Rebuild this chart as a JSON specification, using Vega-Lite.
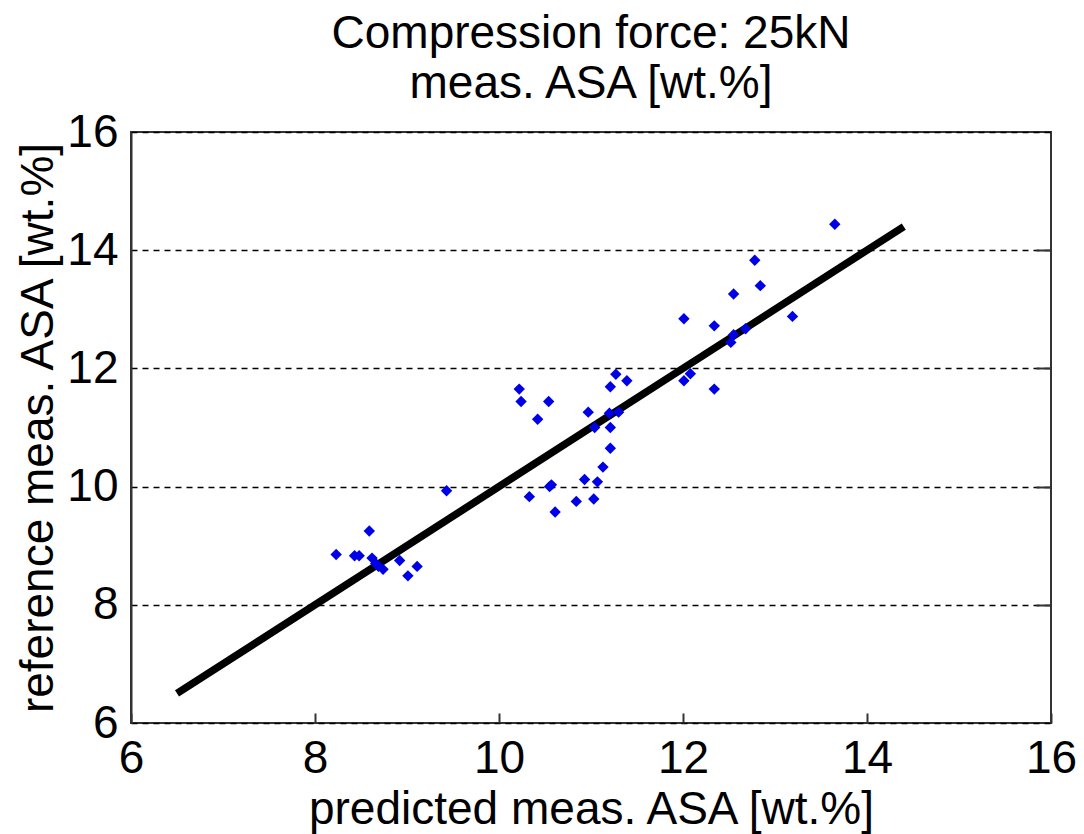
{
  "$schema": "https://vega.github.io/schema/vega-lite/v6.json",
  "width": 920,
  "height": 591,
  "autosize": {"type": "none"},
  "padding": {"left": 131, "top": 132, "right": 33, "bottom": 111},
  "background": "white",
  "config": {
    "font": "Liberation Sans",
    "view": {"stroke": "#333333", "strokeWidth": 2},
    "axis": {
      "labelFont": "Liberation Sans",
      "titleFont": "Liberation Sans",
      "labelFontSize": 46,
      "titleFontSize": 46,
      "titleFontWeight": "normal",
      "labelColor": "black",
      "titleColor": "black",
      "domainColor": "#333333",
      "domainWidth": 2,
      "tickColor": "#333333",
      "tickWidth": 2,
      "format": "d"
    }
  },
  "title": {
    "text": ["Compression force: 25kN", "meas. ASA [wt.%]"],
    "font": "Liberation Sans",
    "fontSize": 46,
    "fontWeight": "normal",
    "color": "black",
    "lineHeight": 50,
    "anchor": "middle",
    "offset": 1
  },
  "datasets": {
    "pts": [
      {"pred": 9.43, "ref": 9.93},
      {"pred": 8.59, "ref": 9.25},
      {"pred": 8.23, "ref": 8.85},
      {"pred": 8.43, "ref": 8.83},
      {"pred": 8.48, "ref": 8.83},
      {"pred": 8.62, "ref": 8.79},
      {"pred": 8.66, "ref": 8.70},
      {"pred": 8.69, "ref": 8.65},
      {"pred": 8.74, "ref": 8.60},
      {"pred": 8.92, "ref": 8.75},
      {"pred": 9.11, "ref": 8.65},
      {"pred": 9.01, "ref": 8.49},
      {"pred": 10.22, "ref": 11.65},
      {"pred": 10.24, "ref": 11.44},
      {"pred": 10.54, "ref": 11.44},
      {"pred": 10.42, "ref": 11.14},
      {"pred": 11.27, "ref": 11.90},
      {"pred": 11.39, "ref": 11.79},
      {"pred": 11.21, "ref": 11.69},
      {"pred": 10.97, "ref": 11.26},
      {"pred": 11.20, "ref": 11.24},
      {"pred": 11.30, "ref": 11.26},
      {"pred": 11.04, "ref": 11.00},
      {"pred": 11.21, "ref": 11.00},
      {"pred": 11.21, "ref": 10.65},
      {"pred": 11.13, "ref": 10.33},
      {"pred": 11.07, "ref": 10.08},
      {"pred": 10.93, "ref": 10.12},
      {"pred": 10.57, "ref": 10.03},
      {"pred": 10.55, "ref": 10.00},
      {"pred": 10.33, "ref": 9.83},
      {"pred": 10.61, "ref": 9.57},
      {"pred": 10.84, "ref": 9.75},
      {"pred": 11.03, "ref": 9.79},
      {"pred": 13.65, "ref": 14.44},
      {"pred": 12.78, "ref": 13.83},
      {"pred": 12.84, "ref": 13.40},
      {"pred": 12.55, "ref": 13.26},
      {"pred": 12.01, "ref": 12.84},
      {"pred": 12.34, "ref": 12.72},
      {"pred": 13.19, "ref": 12.88},
      {"pred": 12.68, "ref": 12.67},
      {"pred": 12.55, "ref": 12.57},
      {"pred": 12.52, "ref": 12.44},
      {"pred": 12.08, "ref": 11.91},
      {"pred": 12.01, "ref": 11.79},
      {"pred": 12.34, "ref": 11.65}
    ],
    "fit": [
      {"pred": 6.5, "ref": 6.5},
      {"pred": 14.4, "ref": 14.4}
    ]
  },
  "layer": [
    {
      "data": {"name": "fit"},
      "mark": {"type": "line", "color": "black", "strokeWidth": 7.5, "clip": true},
      "encoding": {
        "x": {
          "field": "pred", "type": "quantitative",
          "scale": {"domain": [6, 16], "nice": false, "zero": false},
          "axis": {
            "title": "predicted meas. ASA [wt.%]",
            "values": [6, 8, 10, 12, 14, 16],
            "grid": false,
            "domain": false,
            "offset": -10,
            "tickSize": 10,
            "labelPadding": 13,
            "titlePadding": 6,
            "labelFlush": false
          }
        },
        "y": {
          "field": "ref", "type": "quantitative",
          "scale": {"domain": [6, 16], "nice": false, "zero": false},
          "axis": {
            "title": "reference meas. ASA [wt.%]",
            "values": [6, 8, 10, 12, 14, 16],
            "grid": true,
            "gridColor": "black",
            "gridDash": [6, 5],
            "gridWidth": 1.6,
            "gridOpacity": 1,
            "ticks": false,
            "labelPadding": 13,
            "titlePadding": 4,
            "labelFlush": false
          }
        }
      }
    },
    {
      "data": {"name": "pts"},
      "mark": {"type": "point", "shape": "diamond", "filled": true, "color": "#0000E6", "size": 130, "opacity": 1},
      "encoding": {
        "x": {"field": "pred", "type": "quantitative"},
        "y": {
          "field": "ref", "type": "quantitative",
          "scale": {"domain": [6, 16], "nice": false, "zero": false},
          "axis": {
            "orient": "right",
            "title": null,
            "values": [8, 10, 12, 14],
            "labels": false,
            "domain": false,
            "grid": false,
            "offset": -15,
            "tickSize": 15
          }
        }
      }
    }
  ],
  "resolve": {"scale": {"y": "independent"}, "axis": {"y": "independent"}}
}
